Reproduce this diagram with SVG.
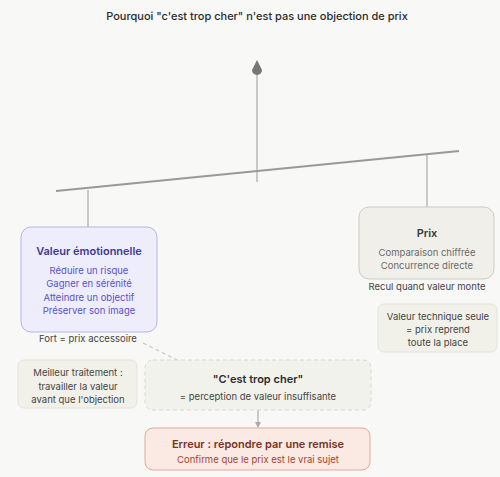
<svg xmlns="http://www.w3.org/2000/svg" width="500" height="477" viewBox="0 0 500 477">
<style>
text{font-family:Inter,"Noto Sans","Liberation Sans",sans-serif;text-anchor:middle}
.ttl{font-size:11px;font-weight:500;fill:#2b2b2b}
.hd{font-size:11px;font-weight:600}
.t{font-size:9.5px}
.lbl{font-size:9.5px;fill:#444}
.note{fill:#f1f1ea;stroke:#e4e3db;stroke-width:1}
.ln{stroke:#aaa;stroke-width:1.2;fill:none}
</style>
<defs>
<marker id="ah" markerWidth="6" markerHeight="6" refX="5" refY="3" orient="auto" markerUnits="userSpaceOnUse">
<path d="M0,0 L6,3 L0,6 Z" fill="#aaa"/>
</marker>
</defs>
<rect width="500" height="477" fill="#f8f8f6"/>
<text class="ttl" x="257" y="20">Pourquoi "c'est trop cher" n'est pas une objection de prix</text>

<g id="connectors">
<line class="ln" x1="257" y1="72" x2="257" y2="182"/>
<line x1="56" y1="191" x2="459" y2="151" stroke="#999" stroke-width="2"/>
<line class="ln" x1="88" y1="190" x2="88" y2="227"/>
<line class="ln" x1="427" y1="153" x2="427" y2="207"/>
<line x1="143" y1="343" x2="177" y2="360" stroke="#bbb" stroke-width="1" stroke-dasharray="4,3"/>
<line class="ln" x1="258" y1="410" x2="258" y2="427" marker-end="url(#ah)"/>
</g>

<g id="pivot">
<path d="M257,60 L262,70 A5,5 0 1 1 252,70 Z" fill="#777"/>
</g>

<g id="valeur">
<rect x="21" y="227" width="136" height="105" rx="10" fill="#eeedfc" stroke="#b9b3ec"/>
<text class="hd" x="89" y="255" fill="#3e3a8c">Valeur émotionnelle</text>
<text class="t" x="89" y="274" fill="#5a52c6">Réduire un risque</text>
<text class="t" x="89" y="287" fill="#5a52c6">Gagner en sérénité</text>
<text class="t" x="89" y="301" fill="#5a52c6">Atteindre un objectif</text>
<text class="t" x="89" y="314" fill="#5a52c6">Préserver son image</text>
<text class="lbl" x="88" y="342">Fort = prix accessoire</text>
</g>

<g id="prix">
<rect x="359" y="207" width="135" height="72" rx="10" fill="#f1efea" stroke="#cfcbc3"/>
<text class="hd" x="427" y="237" fill="#3a3a3a">Prix</text>
<text class="t" x="427" y="256" fill="#6b6b6b">Comparaison chiffrée</text>
<text class="t" x="427" y="269" fill="#6b6b6b">Concurrence directe</text>
<text class="lbl" x="427" y="290">Recul quand valeur monte</text>
</g>

<g id="technique">
<rect class="note" x="378" y="304" width="119" height="48" rx="6"/>
<text class="lbl" x="438" y="320">Valeur technique seule</text>
<text class="lbl" x="438" y="333">= prix reprend</text>
<text class="lbl" x="438" y="346">toute la place</text>
</g>

<g id="meilleur">
<rect class="note" x="18" y="360" width="119" height="48" rx="6"/>
<text class="lbl" x="78" y="376">Meilleur traitement :</text>
<text class="lbl" x="78" y="390">travailler la valeur</text>
<text class="lbl" x="78" y="403">avant que l'objection</text>
</g>

<g id="cher">
<rect x="145" y="360" width="226" height="50" rx="8" fill="#f2f2ec" stroke="#d8d7cf" stroke-dasharray="4,3"/>
<text class="hd" x="258" y="383" fill="#2b2b2b">"C'est trop cher"</text>
<text class="lbl" x="258" y="400">= perception de valeur insuffisante</text>
</g>

<g id="erreur">
<rect x="145" y="428" width="225" height="42" rx="8" fill="#fbe9e3" stroke="#e3a999"/>
<text class="hd" x="258" y="448" fill="#7a3322">Erreur : répondre par une remise</text>
<text class="t" x="258" y="463" fill="#a3452e">Confirme que le prix est le vrai sujet</text>
</g>
</svg>
